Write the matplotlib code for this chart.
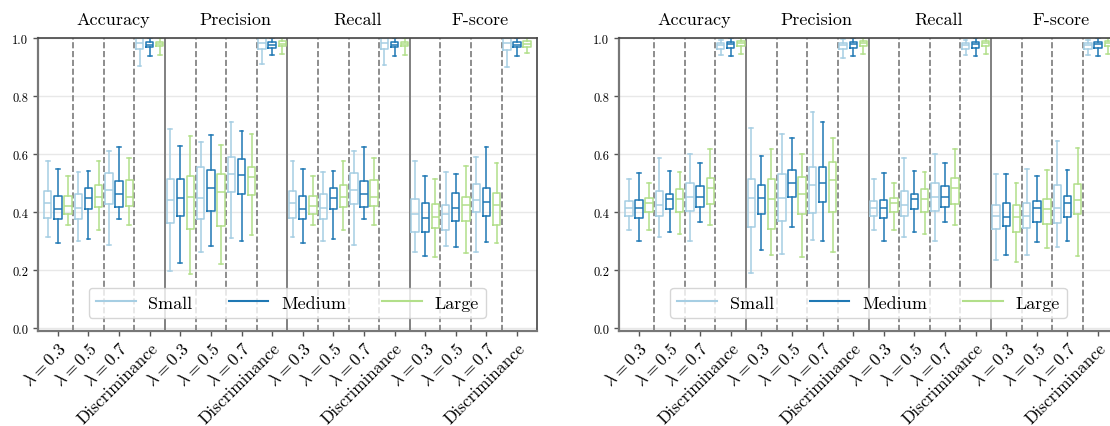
import matplotlib
matplotlib.use("Agg")
import matplotlib.pyplot as plt
from matplotlib.lines import Line2D

plt.rcParams["font.family"] = "serif"
plt.rcParams["font.serif"] = ["cmr10", "DejaVu Serif"]
plt.rcParams["mathtext.fontset"] = "cm"
plt.rcParams["axes.formatter.use_mathtext"] = True

# ---- labels ----
metrics = ["Accuracy", "Precision", "Recall", "F-score"]
settings = [r"$\lambda = 0.3$", r"$\lambda = 0.5$", r"$\lambda = 0.7$", "Discriminance"]
sizes = ["Small", "Medium", "Large"]
colors = ["#a6cee3", "#1f78b4", "#b2df8a"]

# ---- box stats, per setting and size: (whislo, q1, med, q3, whishi) ----
left_accuracy = [
    [(0.314, 0.378, 0.431, 0.472, 0.576), (0.292, 0.376, 0.410, 0.456, 0.549), (0.356, 0.393, 0.422, 0.455, 0.525)],
    [(0.300, 0.376, 0.414, 0.463, 0.539), (0.308, 0.409, 0.449, 0.484, 0.543), (0.338, 0.416, 0.453, 0.494, 0.576)],
    [(0.287, 0.429, 0.476, 0.534, 0.611), (0.376, 0.418, 0.463, 0.507, 0.625), (0.356, 0.420, 0.453, 0.510, 0.587)],
    [(0.905, 0.962, 0.984, 1.000, 1.000), (0.937, 0.968, 0.977, 0.985, 1.000), (0.942, 0.971, 0.979, 0.988, 1.000)],
]
left_precision = [
    [(0.198, 0.361, 0.443, 0.515, 0.686), (0.223, 0.385, 0.447, 0.513, 0.629), (0.185, 0.342, 0.451, 0.524, 0.663)],
    [(0.264, 0.376, 0.447, 0.556, 0.643), (0.284, 0.405, 0.482, 0.546, 0.667), (0.220, 0.352, 0.469, 0.530, 0.633)],
    [(0.310, 0.469, 0.532, 0.591, 0.711), (0.301, 0.461, 0.528, 0.582, 0.679), (0.320, 0.459, 0.522, 0.557, 0.668)],
    [(0.910, 0.962, 0.983, 1.000, 1.000), (0.940, 0.967, 0.977, 0.985, 1.000), (0.945, 0.972, 0.980, 0.989, 1.000)],
]
left_recall = [
    [(0.314, 0.378, 0.431, 0.472, 0.576), (0.292, 0.376, 0.410, 0.456, 0.549), (0.356, 0.393, 0.422, 0.455, 0.525)],
    [(0.300, 0.376, 0.414, 0.463, 0.539), (0.308, 0.409, 0.449, 0.484, 0.543), (0.338, 0.416, 0.453, 0.494, 0.576)],
    [(0.287, 0.429, 0.476, 0.534, 0.611), (0.376, 0.418, 0.463, 0.507, 0.625), (0.356, 0.420, 0.453, 0.510, 0.587)],
    [(0.907, 0.962, 0.984, 1.000, 1.000), (0.937, 0.968, 0.977, 0.985, 1.000), (0.942, 0.971, 0.979, 0.988, 1.000)],
]
left_fscore = [
    [(0.261, 0.331, 0.393, 0.444, 0.576), (0.249, 0.330, 0.381, 0.430, 0.525), (0.246, 0.345, 0.382, 0.427, 0.513)],
    [(0.282, 0.337, 0.393, 0.426, 0.537), (0.280, 0.369, 0.414, 0.465, 0.533), (0.260, 0.369, 0.426, 0.452, 0.560)],
    [(0.264, 0.402, 0.443, 0.496, 0.589), (0.298, 0.387, 0.436, 0.482, 0.623), (0.292, 0.356, 0.424, 0.466, 0.568)],
    [(0.900, 0.960, 0.983, 1.000, 1.000), (0.937, 0.968, 0.977, 0.985, 1.000), (0.950, 0.968, 0.980, 0.989, 1.000)],
]

right_accuracy = [
    [(0.338, 0.387, 0.414, 0.438, 0.513), (0.300, 0.379, 0.414, 0.443, 0.534), (0.338, 0.400, 0.430, 0.449, 0.501)],
    [(0.314, 0.387, 0.426, 0.471, 0.587), (0.333, 0.409, 0.444, 0.463, 0.543), (0.324, 0.399, 0.445, 0.478, 0.539)],
    [(0.300, 0.403, 0.451, 0.499, 0.601), (0.367, 0.418, 0.451, 0.491, 0.568), (0.355, 0.428, 0.482, 0.516, 0.618)],
    [(0.941, 0.962, 0.976, 0.983, 0.995), (0.937, 0.966, 0.979, 0.987, 1.000), (0.945, 0.974, 0.982, 0.990, 1.000)],
]
right_precision = [
    [(0.190, 0.349, 0.447, 0.513, 0.689), (0.270, 0.392, 0.447, 0.492, 0.594), (0.252, 0.341, 0.446, 0.513, 0.617)],
    [(0.255, 0.369, 0.447, 0.533, 0.669), (0.349, 0.452, 0.500, 0.545, 0.657), (0.244, 0.395, 0.464, 0.520, 0.599)],
    [(0.305, 0.398, 0.492, 0.554, 0.744), (0.301, 0.436, 0.499, 0.554, 0.711), (0.263, 0.402, 0.510, 0.572, 0.656)],
    [(0.933, 0.962, 0.976, 0.984, 0.996), (0.937, 0.966, 0.979, 0.987, 1.000), (0.945, 0.973, 0.982, 0.990, 1.000)],
]
right_recall = [
    [(0.338, 0.387, 0.414, 0.438, 0.513), (0.300, 0.379, 0.414, 0.443, 0.534), (0.338, 0.400, 0.430, 0.449, 0.501)],
    [(0.314, 0.387, 0.426, 0.471, 0.587), (0.333, 0.409, 0.444, 0.463, 0.543), (0.324, 0.399, 0.445, 0.478, 0.539)],
    [(0.300, 0.403, 0.451, 0.499, 0.601), (0.367, 0.418, 0.451, 0.491, 0.568), (0.355, 0.428, 0.482, 0.516, 0.618)],
    [(0.940, 0.962, 0.976, 0.983, 0.995), (0.937, 0.966, 0.979, 0.987, 1.000), (0.945, 0.974, 0.982, 0.990, 1.000)],
]
right_fscore = [
    [(0.234, 0.343, 0.385, 0.424, 0.530), (0.251, 0.353, 0.382, 0.432, 0.532), (0.227, 0.332, 0.382, 0.426, 0.501)],
    [(0.253, 0.346, 0.385, 0.432, 0.547), (0.298, 0.367, 0.413, 0.438, 0.525), (0.275, 0.359, 0.410, 0.446, 0.544)],
    [(0.278, 0.364, 0.413, 0.495, 0.646), (0.302, 0.382, 0.431, 0.457, 0.546), (0.249, 0.393, 0.443, 0.498, 0.622)],
    [(0.940, 0.962, 0.976, 0.983, 0.995), (0.937, 0.966, 0.979, 0.987, 1.000), (0.945, 0.973, 0.982, 0.990, 1.000)],
]

panels = [
    [left_accuracy, left_precision, left_recall, left_fscore],
    [right_accuracy, right_precision, right_recall, right_fscore],
]


def draw_panel(ax, panel):
    n = len(metrics) * len(settings)
    for m, metric_data in enumerate(panel):
        for g, group in enumerate(metric_data):
            k = m * len(settings) + g
            for s, (lo, q1, med, q3, hi) in enumerate(group):
                st = [dict(whislo=lo, q1=q1, med=med, q3=q3, whishi=hi, fliers=[])]
                c = colors[s]
                ax.bxp(st, positions=[k + (s - 1) * 0.33], widths=0.24,
                       showfliers=False, manage_ticks=False,
                       boxprops=dict(color=c, lw=1.1),
                       whiskerprops=dict(color=c, lw=1.1),
                       capprops=dict(color=c, lw=1.1),
                       medianprops=dict(color=c, lw=1.1))

    # separators between settings / metrics
    for k in range(n - 1):
        if (k + 1) % len(settings) == 0:
            ax.axvline(k + 0.5, color="#808080", lw=1.4, zorder=1)
        else:
            ax.axvline(k + 0.5, color="#7a7a7a", lw=1.2, ls="--", zorder=1)

    for m, name in enumerate(metrics):
        ax.text(m * len(settings) + 1.8, 1.065, name, fontsize=13,
                ha="center", va="center",
                transform=ax.get_xaxis_transform())

    ax.set_xlim(-0.65, n - 0.35)
    ax.set_ylim(-0.01, 1.0)
    ax.set_xticks(range(n))
    ax.set_xticklabels(settings * len(metrics), rotation=45, ha="right",
                       rotation_mode="anchor", fontsize=12.5)
    ax.set_yticks([0.0, 0.2, 0.4, 0.6, 0.8, 1.0])
    ax.set_yticklabels(["0.0", "0.2", "0.4", "0.6", "0.8", "1.0"], fontsize=9)
    ax.tick_params(axis="both", color="#555555", length=3.5, width=1)
    ax.tick_params(axis="x", pad=2.5)
    ax.grid(axis="y", color="#e8e8e8", lw=1)
    ax.set_axisbelow(True)
    for side in ["top", "right"]:
        ax.spines[side].set_color("#444444")
        ax.spines[side].set_linewidth(1.2)
    for side in ["left", "bottom"]:
        ax.spines[side].set_color("#777777")
        ax.spines[side].set_linewidth(1.6)

    handles = [Line2D([], [], color=c, lw=1.5) for c in colors]
    ax.legend(handles, sizes, loc="lower center", bbox_to_anchor=(0.5, 0.045),
              ncol=3, fontsize=13, handlelength=2.2, handletextpad=0.7,
              columnspacing=2.0, borderaxespad=0, edgecolor="#cccccc",
              framealpha=0.8)


fig = plt.figure(figsize=(11.1, 4.27), dpi=100)
ax1 = fig.add_axes([0.0342, 0.2225, 0.4495, 0.686])
ax2 = fig.add_axes([0.5577, 0.2225, 0.4495, 0.686])

draw_panel(ax1, panels[0])
draw_panel(ax2, panels[1])

fig.savefig("out.png", dpi=100)
